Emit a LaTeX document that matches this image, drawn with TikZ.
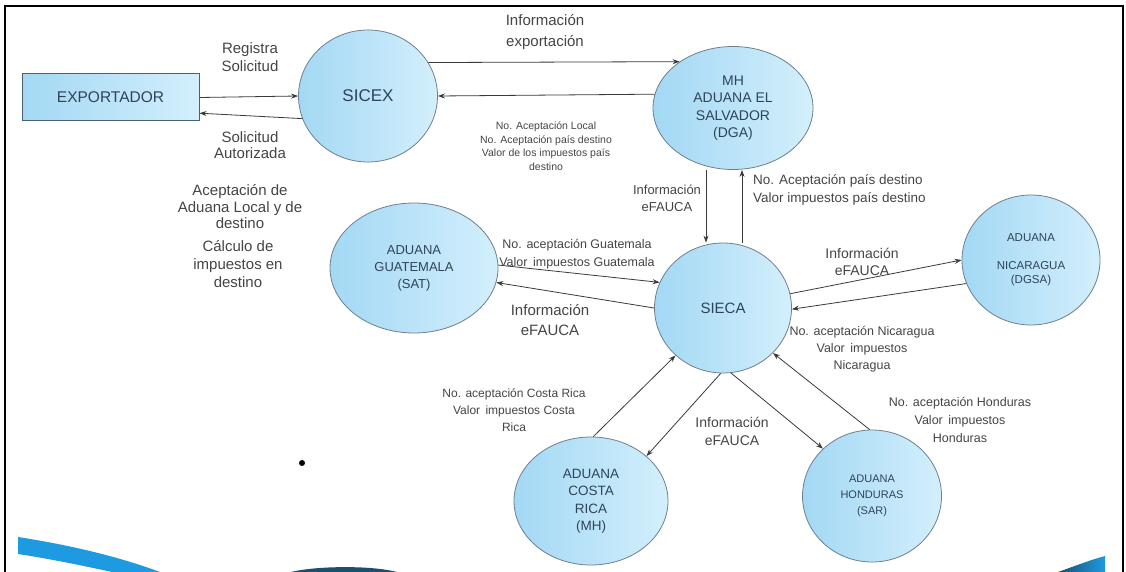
\documentclass[tikz,border=0pt]{standalone}
\usepackage{fontspec}
\setmainfont{Liberation Sans}
\usetikzlibrary{shapes.geometric,arrows.meta}
\definecolor{bubbleleft}{HTML}{A3D8F4}
\definecolor{bubbleright}{HTML}{D3EFFC}
\definecolor{bordergray}{HTML}{6E7F8E}
\definecolor{rectborder}{HTML}{4D6070}
\definecolor{boxtext}{HTML}{2E4459}
\definecolor{labeltext}{HTML}{454545}
\definecolor{linegray}{HTML}{3A3A3A}
\definecolor{swoosh}{HTML}{1E9BE0}
\definecolor{swooshdark}{HTML}{1B4F72}
\newcommand{\fs}[2]{\fontsize{#1}{#2}\selectfont}

\begin{document}
\begin{tikzpicture}[x=1pt,y=-1pt,>={Stealth[length=7pt,width=5pt]}]
 \tikzstyle{bubble} = [ellipse,draw=bordergray,line width=0.8pt,inner sep=0pt,left color=bubbleleft,right color=bubbleright,text=boxtext,align=center]
 \tikzstyle{lbl} = [align=center,text=labeltext,inner sep=0pt]
 \tikzstyle{flow} = [->,draw=linegray,line width=0.8pt]
 \useasboundingbox (0,0) rectangle (1126,572);
 \fill[white] (0,0) rectangle (1126,572);

 % frame and bottom decoration
 \draw[line width=1.2pt] (5,572) -- (5,6) -- (1123,6) -- (1123,572);
 \fill[swoosh] (18,537) .. controls (70,545) and (120,557) .. (160,572) -- (112,572) .. controls (80,565) and (45,558) .. (18,554) -- cycle;
 \fill[swooshdark] (291,572) .. controls (315,566) and (370,565) .. (397,572) -- cycle;
 \shade[left color=swooshdark,right color=swoosh] (1058,572) .. controls (1075,566) and (1090,560) .. (1105,556) -- (1105,572) -- cycle;
 \fill (302,463) circle (3);

 % nodes
 \node[rectangle,draw=rectborder,line width=1pt,minimum width=177pt,minimum height=47pt,left color=bubbleleft,right color=bubbleright,text=boxtext,font=\fs{15.5}{18}] (exportador) at (110.5,97.5) {EXPORTADOR};
 \node[bubble,minimum width=139pt,minimum height=132pt,font=\fs{17}{20}] (sicex) at (368,96) {SICEX};
 \node[bubble,minimum width=160pt,minimum height=123pt,font=\fs{14}{17.5}] (mh) at (733,108) {MH\\ADUANA EL\\SALVADOR\\(DGA)};
 \node[bubble,minimum width=137pt,minimum height=130pt,font=\fs{15}{18}] (sieca) at (723,308) {SIECA};
 \node[bubble,minimum width=168pt,minimum height=130pt,font=\fs{13}{17}] (guatemala) at (414,268) {ADUANA\\GUATEMALA\\(SAT)};
 \node[bubble,minimum width=138pt,minimum height=130pt,font=\fs{11.5}{14}] (nicaragua) at (1031,260) {ADUANA\\[14pt]NICARAGUA\\(DGSA)};
 \node[bubble,minimum width=154pt,minimum height=128pt,font=\fs{13.5}{17.5}] (costarica) at (591,501) {ADUANA\\COSTA\\RICA\\(MH)};
 \node[bubble,minimum width=139pt,minimum height=132pt,font=\fs{11}{16}] (honduras) at (872,496) {ADUANA\\HONDURAS\\(SAR)};

 % connectors
 \draw[flow] (exportador.east) -- (sicex.west);
 \draw[flow] (sicex.199) -- (exportador.-10);
 \draw[flow] (sicex.29) -- (mh.139);
 \draw[flow] (mh.170) -- (sicex.east);
 \draw[flow] ([xshift=-27pt]mh.south) -- ([xshift=-17pt]sieca.north);
 \draw[flow] ([xshift=19pt]sieca.north) -- ([xshift=9pt]mh.south);
 \draw[flow] (guatemala.2) -- (sieca.158);
 \draw[flow] (sieca.west) -- (guatemala.350);
 \draw[flow] (sieca.12) -- (nicaragua.west);
 \draw[flow] (nicaragua.200) -- (sieca.-1);
 \draw[flow] (costarica.88) -- (sieca.225);
 \draw[flow] (sieca.268) -- (costarica.39);
 \draw[flow] (sieca.277) -- (honduras.136);
 \draw[flow] (honduras.92) -- (sieca.318);

 % labels
 \node[lbl,font=\fs{15}{18}] (lregistra) at (250,57) {Registra\\Solicitud};
 \node[lbl,font=\fs{15}{16.5}] (lautorizada) at (250,145) {Solicitud\\Autorizada};
 \node[lbl,font=\fs{15}{16.5}] (laceptacion) at (240,207) {Aceptación de\\Aduana Local y de\\destino};
 \node[lbl,font=\fs{15}{18}] (lcalculo) at (238,264) {Cálculo de\\impuestos en\\destino};
 \node[lbl,font=\fs{15}{21}] (lexport) at (545,32) {Información\\exportación};
 \node[lbl,font=\fs{10.5}{13.5}] (lmhsicex) at (546,146) {No. Aceptación Local\\No. Aceptación país destino\\Valor de los impuestos país\\destino};
 \node[lbl,font=\fs{13}{17}] (lmhinfo) at (667,198.5) {Información\\eFAUCA};
 \node[lbl,font=\fs{13.5}{18},align=left,anchor=west] (lmhpais) at (753,190) {No. Aceptación país destino\\Valor impuestos país destino};
 \node[lbl,font=\fs{12.5}{18}] (lguat) at (577,254) {No. aceptación Guatemala\\Valor\, impuestos Guatemala};
 \node[lbl,font=\fs{15}{20}] (lguatinfo) at (550,320) {Información\\eFAUCA};
 \node[lbl,font=\fs{14}{17}] (lnicinfo) at (862,262) {Información\\eFAUCA};
 \node[lbl,font=\fs{12.5}{17}] (lnic) at (862,349) {No. aceptación Nicaragua\\Valor\, impuestos\\Nicaragua};
 \node[lbl,font=\fs{12}{17}] (lcr) at (514,410) {No. aceptación Costa Rica\\Valor\, impuestos Costa\\Rica};
 \node[lbl,font=\fs{14}{18}] (lcrinfo) at (732,431) {Información\\eFAUCA};
 \node[lbl,font=\fs{12.5}{18}] (lhon) at (960,420) {No. aceptación Honduras\\Valor\, impuestos\\Honduras};
\end{tikzpicture}
\end{document}
